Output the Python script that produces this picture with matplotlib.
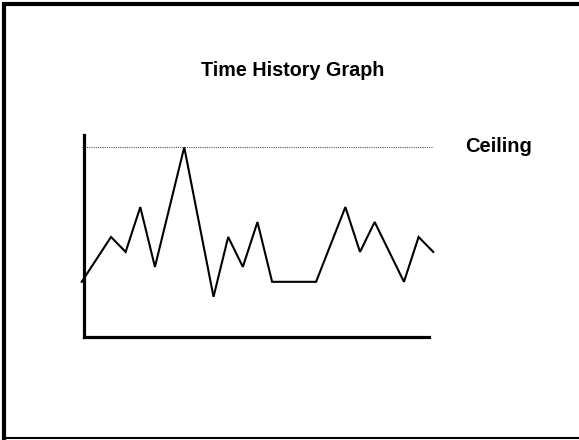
import matplotlib
matplotlib.use("Agg")
import matplotlib.pyplot as plt
from matplotlib.lines import Line2D

plt.rcParams['font.family'] = ['Liberation Sans', 'DejaVu Sans']

# Data
time_idx = [0, 2, 3, 4, 5, 7, 9, 10, 11, 12, 13, 16, 18, 19, 20, 22, 23, 24]
values = [2, 5, 4, 7, 3, 11, 1, 5, 3, 6, 2, 2, 7, 4, 6, 2, 5, 4]
ceiling = 11
ceiling_span = [0.02, 23.9]
title = "Time History Graph"
ceiling_label = "Ceiling"

W, H = 579, 440
fig = plt.figure(figsize=(W / 100, H / 100), dpi=100)

ax = fig.add_axes([84 / W, 1 - 337 / H, (429 - 84) / W, (337 - 135) / H])
ax.set_xlim(0.157, 23.71)
ax.set_ylim(-1.69, 11.82)

ax.plot(time_idx, values, color='black', lw=1.5, clip_on=False,
        solid_joinstyle='miter')
ax.plot(ceiling_span, [ceiling, ceiling], color='#555555', lw=0.8,
        ls=(0, (1, 1)), clip_on=False)

for s in ['top', 'right']:
    ax.spines[s].set_visible(False)
for s in ['left', 'bottom']:
    ax.spines[s].set_linewidth(2.3)
    ax.spines[s].set_color('black')
ax.set_xticks([])
ax.set_yticks([])

fig.text(293 / W, 1 - 75.7 / H, title, ha='center', va='baseline',
         fontsize=14.2, fontweight='bold')
fig.text(465 / W, 1 - 151.7 / H, ceiling_label, ha='left', va='baseline',
         fontsize=14.5, fontweight='bold')

# Frame border
fig.add_artist(Line2D([1.7 / W, 1], [1 - 4 / H, 1 - 4 / H], color='black',
                      lw=3.0, transform=fig.transFigure, solid_capstyle='butt'))
fig.add_artist(Line2D([3.9 / W, 3.9 / W], [1 - 2 / H, 1 - 439.5 / H], color='black',
                      lw=3.0, transform=fig.transFigure, solid_capstyle='butt'))
fig.add_artist(Line2D([1.7 / W, 1], [1 - 438 / H, 1 - 438 / H], color='black',
                      lw=1.5, transform=fig.transFigure, solid_capstyle='butt'))

fig.savefig('out.png', dpi=100)
